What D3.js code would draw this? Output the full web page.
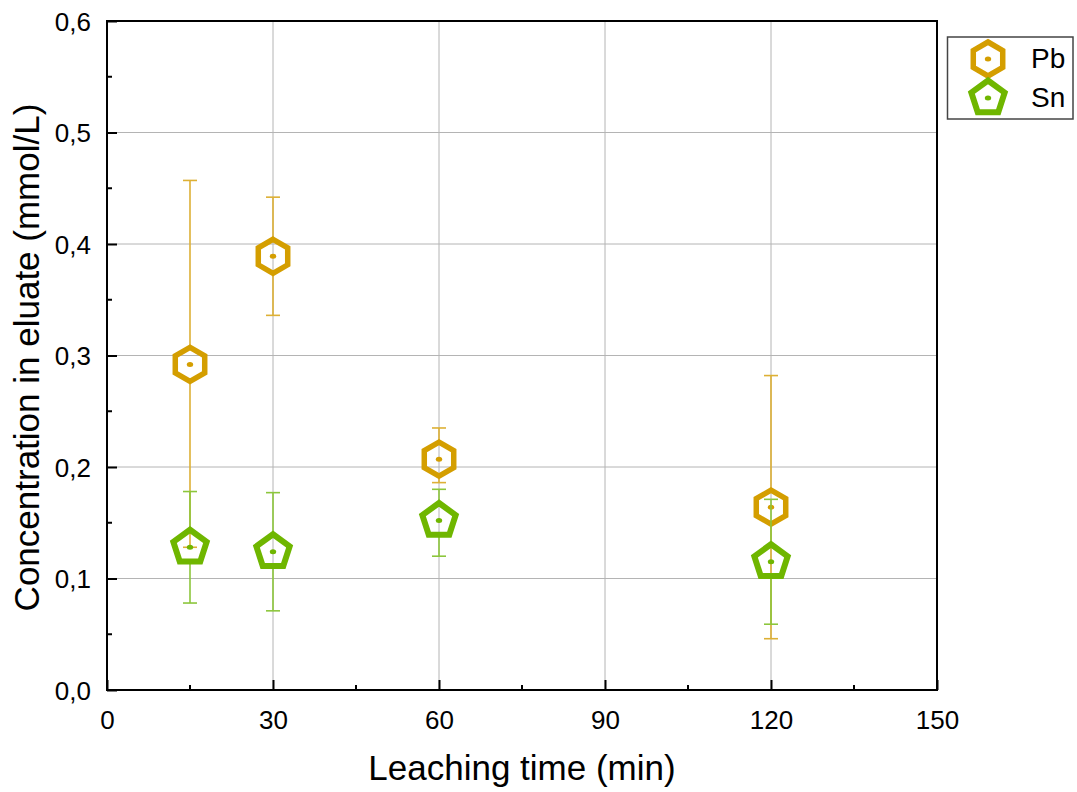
<!DOCTYPE html>
<html>
<head>
<meta charset="utf-8">
<script src="https://cdn.jsdelivr.net/npm/d3@7"></script>
<style>
  html, body { margin: 0; padding: 0; background: #ffffff; }
  svg { display: block; font-family: "Liberation Sans", Arial, sans-serif; }
</style>
</head>
<body>
<svg id="chart" width="1077" height="792"></svg>
<script>
// Leaching times (min)
const times = [15, 30, 60, 120];

// Pb concentration in eluate (mmol/L) with error-bar limits
const pbValues = [0.292, 0.389, 0.207, 0.164];
const pbHigh   = [0.457, 0.442, 0.235, 0.282];
const pbLow    = [0.128, 0.336, 0.186, 0.046];

// Sn concentration in eluate (mmol/L) with error-bar limits
const snValues = [0.128, 0.124, 0.152, 0.115];
const snHigh   = [0.178, 0.177, 0.180, 0.171];
const snLow    = [0.078, 0.071, 0.120, 0.059];

const xTicks = [0, 30, 60, 90, 120, 150];
const yTicks = [0, 0.1, 0.2, 0.3, 0.4, 0.5, 0.6];
const xMinorTicks = [15, 45, 75, 105, 135];
const yMinorTicks = [0.05, 0.15, 0.25, 0.35, 0.45, 0.55];

const seriesNames = ["Pb", "Sn"];

const svg = d3.select("#chart");
const plotLeft = 107, plotRight = 937, plotTop = 21, plotBottom = 690;

const x = d3.scaleLinear().domain([0, 150]).range([plotLeft, plotRight]);
const y = d3.scaleLinear().domain([0, 0.6]).range([plotBottom, plotTop]);

const fmtY = v => d3.format(".1f")(v).replace(".", ",");

// grid lines
const grid = svg.append("g");
grid.selectAll("line.gx").data(xTicks.slice(1, -1)).join("line")
  .attr("x1", d => x(d)).attr("x2", d => x(d))
  .attr("y1", plotTop).attr("y2", plotBottom)
  .attr("stroke", "#b4b4b4").attr("stroke-width", 1);
grid.selectAll("line.gy").data(yTicks.slice(1, -1)).join("line")
  .attr("x1", plotLeft).attr("x2", plotRight)
  .attr("y1", d => y(d)).attr("y2", d => y(d))
  .attr("stroke", "#b4b4b4").attr("stroke-width", 1);

// axes with inward ticks
const xAxis = d3.axisBottom(x).tickValues(xTicks).tickSize(-10).tickPadding(0).tickFormat(d3.format("d"));
const yAxis = d3.axisLeft(y).tickValues(yTicks).tickSize(-10).tickPadding(0).tickFormat(fmtY);

const gx = svg.append("g").attr("transform", `translate(0,${plotBottom})`).call(xAxis);
gx.select(".domain").remove();
gx.selectAll(".tick line").attr("stroke", "#000").attr("stroke-width", 2);
gx.selectAll(".tick text")
  .attr("y", 39).attr("dy", 0)
  .attr("font-size", 26).attr("fill", "#000")
  .attr("font-family", "Liberation Sans, Arial, sans-serif");

const gy = svg.append("g").attr("transform", `translate(${plotLeft},0)`).call(yAxis);
gy.select(".domain").remove();
gy.selectAll(".tick line").attr("stroke", "#000").attr("stroke-width", 2);
gy.selectAll(".tick text")
  .attr("x", -16).attr("dy", "0.35em")
  .attr("font-size", 26).attr("fill", "#000")
  .attr("font-family", "Liberation Sans, Arial, sans-serif");

// minor ticks
svg.append("g").selectAll("line").data(xMinorTicks).join("line")
  .attr("x1", d => x(d)).attr("x2", d => x(d))
  .attr("y1", plotBottom).attr("y2", plotBottom - 5)
  .attr("stroke", "#000").attr("stroke-width", 2);
svg.append("g").selectAll("line").data(yMinorTicks).join("line")
  .attr("x1", plotLeft).attr("x2", plotLeft + 5)
  .attr("y1", d => y(d)).attr("y2", d => y(d))
  .attr("stroke", "#000").attr("stroke-width", 2);

// frame
svg.append("rect")
  .attr("x", plotLeft).attr("y", plotTop)
  .attr("width", plotRight - plotLeft).attr("height", plotBottom - plotTop)
  .attr("fill", "none").attr("stroke", "#000").attr("stroke-width", 2);

// axis titles
svg.append("text")
  .attr("x", (plotLeft + plotRight) / 2).attr("y", 780)
  .attr("text-anchor", "middle").attr("font-size", 35).attr("fill", "#000")
  .text("Leaching time (min)");
svg.append("text")
  .attr("transform", `translate(39,${(plotTop + plotBottom) / 2 + 2}) rotate(-90)`)
  .attr("text-anchor", "middle").attr("font-size", 35).attr("fill", "#000")
  .text("Concentration in eluate (mmol/L)");

// marker shapes
function polygonPath(n, r, rot) {
  const pts = d3.range(n).map(i => {
    const a = rot + i * 2 * Math.PI / n;
    return [r * Math.sin(a), -r * Math.cos(a)];
  });
  return "M" + pts.map(p => p.join(",")).join("L") + "Z";
}
const hexPath = polygonPath(6, 17, 0);
const pentPath = polygonPath(5, 17.5, 0);

const series = [
  { name: seriesNames[0], vals: pbValues, hi: pbHigh, lo: pbLow,
    color: "#d49e00", errColor: "#ddb035", path: hexPath, gapUp: 19, gapDown: 19, sw: 5.5 },
  { name: seriesNames[1], vals: snValues, hi: snHigh, lo: snLow,
    color: "#6fb600", errColor: "#8cc63c", path: pentPath, gapUp: 20, gapDown: 16, sw: 6 }
];

series.forEach(s => {
  const data = times.map((t, i) => ({ t, v: s.vals[i], hi: s.hi[i], lo: s.lo[i] }));
  const g = svg.append("g");
  // error bars, interrupted by the series' own hollow marker
  g.selectAll("line.up").data(data).join("line")
    .attr("x1", d => x(d.t)).attr("x2", d => x(d.t))
    .attr("y1", d => y(d.hi)).attr("y2", d => Math.max(y(d.hi), y(d.v) - s.gapUp))
    .attr("stroke", s.errColor).attr("stroke-width", 1.6);
  g.selectAll("line.down").data(data).join("line")
    .attr("x1", d => x(d.t)).attr("x2", d => x(d.t))
    .attr("y1", d => Math.min(y(d.lo), y(d.v) + s.gapDown)).attr("y2", d => y(d.lo))
    .attr("stroke", s.errColor).attr("stroke-width", 1.6);
  g.selectAll("line.capHi").data(data).join("line")
    .attr("x1", d => x(d.t) - 7).attr("x2", d => x(d.t) + 7)
    .attr("y1", d => y(d.hi)).attr("y2", d => y(d.hi))
    .attr("stroke", s.errColor).attr("stroke-width", 1.6);
  g.selectAll("line.capLo").data(data).join("line")
    .attr("x1", d => x(d.t) - 7).attr("x2", d => x(d.t) + 7)
    .attr("y1", d => y(d.lo)).attr("y2", d => y(d.lo))
    .attr("stroke", s.errColor).attr("stroke-width", 1.6);
  // hollow markers with a centre dot
  g.selectAll("path.m").data(data).join("path")
    .attr("d", s.path)
    .attr("transform", d => `translate(${x(d.t)},${y(d.v)})`)
    .attr("fill", "none").attr("stroke", s.color).attr("stroke-width", s.sw)
    .attr("stroke-linejoin", "miter");
  g.selectAll("ellipse").data(data).join("ellipse")
    .attr("cx", d => x(d.t)).attr("cy", d => y(d.v))
    .attr("rx", 3.2).attr("ry", 2.5).attr("fill", s.color);
});

// legend
const lg = svg.append("g");
lg.append("rect")
  .attr("x", 947.5).attr("y", 37).attr("width", 125.5).attr("height", 82)
  .attr("fill", "#fff").attr("stroke", "#444").attr("stroke-width", 1.5);
series.forEach((s, i) => {
  const cy = 59 + i * 39;
  lg.append("path").attr("d", s.path)
    .attr("transform", `translate(988,${cy})`)
    .attr("fill", "none").attr("stroke", s.color).attr("stroke-width", s.sw);
  lg.append("ellipse").attr("cx", 988).attr("cy", cy).attr("rx", 3.2).attr("ry", 2.5).attr("fill", s.color);
  lg.append("text").attr("x", 1031).attr("y", cy + 9)
    .attr("font-size", 28).attr("fill", "#000").text(s.name);
});
</script>
</body>
</html>
